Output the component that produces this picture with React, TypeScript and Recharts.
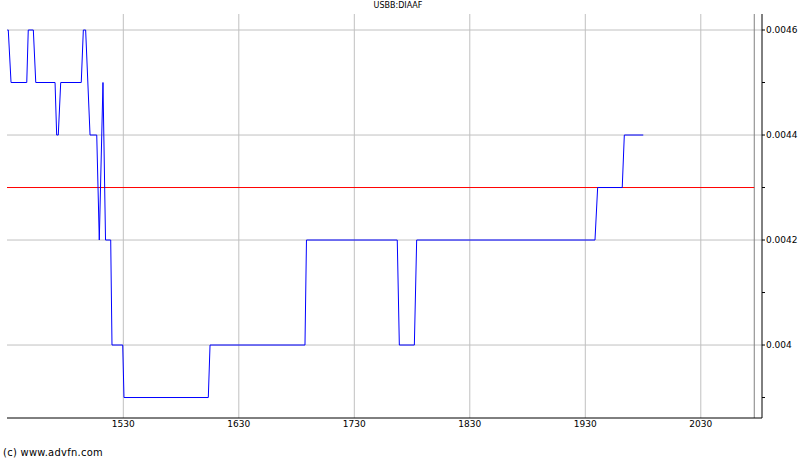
import {
  LineChart,
  Line,
  XAxis,
  YAxis,
  CartesianGrid,
} from 'recharts';

// time axis (HHMM-style units) and price
const times = [
  1429.6, 1430.4, 1432.8, 1446.4, 1447.7, 1452.1, 1454.2, 1470.9, 1472.3, 1473.7,
  1475.8, 1493.6, 1495.4, 1497.4, 1501.2, 1507.0, 1509.2, 1512.4, 1514.6, 1519.1,
  1520.2, 1529.5, 1530.6, 1603.6, 1605.1, 1687.3, 1688.6, 1767.2, 1769.0, 1782.0,
  1784.0, 1938.4, 1940.7, 1962.0, 1963.8, 1980.2,
];
const prices = [
  0.0046, 0.0046, 0.0045, 0.0045, 0.0046, 0.0046, 0.0045, 0.0045, 0.0044, 0.0044,
  0.0045, 0.0045, 0.0046, 0.0046, 0.0044, 0.0044, 0.0042, 0.0045, 0.0042, 0.0042,
  0.004, 0.004, 0.0039, 0.0039, 0.004, 0.004, 0.0042, 0.0042, 0.004, 0.004,
  0.0042, 0.0042, 0.0043, 0.0043, 0.0044, 0.0044,
];

const xTicks = [1530, 1630, 1730, 1830, 1930, 2030];
const yMinorTicks = [0.0039, 0.004, 0.0041, 0.0042, 0.0043, 0.0044, 0.0045, 0.0046];
const yMajorTicks = [0.004, 0.0042, 0.0044, 0.0046];
const yMajorLabels = ['0.004', '0.0042', '0.0044', '0.0046'];

const THRESHOLD = 0.0043;
const LAST_TIME = 2076.3;
const X_DOMAIN = [1429.3, 2083];
const Y_DOMAIN = [0.003861, 0.0046305];

const data = times.map((t, i) => ({ t, p: prices[i] }));
const thresholdData = [
  { t: X_DOMAIN[0], v: THRESHOLD },
  { t: LAST_TIME, v: THRESHOLD },
];
const lastTimeData = [
  { t: LAST_TIME, v: Y_DOMAIN[0] },
  { t: LAST_TIME, v: Y_DOMAIN[1] },
];

const FONT = 'DejaVu Sans, Verdana, sans-serif';
const TICK_STYLE = { fontFamily: FONT, fontSize: 9, fill: '#000' };
const AXIS_LINE = { stroke: '#000', strokeWidth: 1 };

const yLabel = (v: number) => {
  const i = yMajorTicks.findIndex((m) => Math.abs(m - v) < 1e-9);
  return i >= 0 ? yMajorLabels[i] : '';
};

export default function App() {
  return (
    <div
      style={{
        position: 'absolute',
        left: 0,
        top: 0,
        width: 800,
        height: 462,
        background: '#fff',
      }}
    >
      <div
        style={{
          position: 'absolute',
          left: 0,
          width: 796,
          top: 1,
          textAlign: 'center',
          fontFamily: FONT,
          fontSize: 8,
          lineHeight: '9px',
        }}
      >
        USBB:DIAAF
      </div>
      <LineChart
        width={800}
        height={462}
        data={data}
        margin={{ top: 14, right: 0, bottom: 0, left: 7 }}
      >
        <CartesianGrid
          xAxisId="b"
          yAxisId="r"
          stroke="#c0c0c0"
          strokeWidth={1}
          horizontalValues={yMajorTicks}
          verticalValues={xTicks}
        />
        <XAxis
          xAxisId="b"
          dataKey="t"
          type="number"
          domain={X_DOMAIN}
          ticks={xTicks}
          allowDataOverflow
          height={44}
          tick={TICK_STYLE}
          tickLine={false}
          tickSize={0}
          tickMargin={3}
          axisLine={AXIS_LINE}
          interval={0}
        />
        <XAxis
          xAxisId="t"
          dataKey="t"
          type="number"
          orientation="top"
          domain={X_DOMAIN}
          ticks={xTicks}
          allowDataOverflow
          height={0}
          mirror
          tick={false}
          tickSize={3}
          tickLine={{ stroke: '#000' }}
          axisLine={AXIS_LINE}
        />
        <YAxis
          yAxisId="r"
          orientation="right"
          type="number"
          domain={Y_DOMAIN}
          ticks={yMinorTicks}
          allowDataOverflow
          width={38}
          tick={{ ...TICK_STYLE, textAnchor: 'start' }}
          tickFormatter={yLabel}
          tickSize={3}
          tickMargin={1}
          tickLine={{ stroke: '#000' }}
          axisLine={AXIS_LINE}
          interval={0}
        />
        <YAxis
          yAxisId="l"
          orientation="left"
          type="number"
          domain={Y_DOMAIN}
          ticks={yMinorTicks}
          allowDataOverflow
          width={0}
          mirror
          tick={false}
          tickSize={2}
          tickLine={{ stroke: '#000' }}
          axisLine={AXIS_LINE}
        />
        <Line
          xAxisId="b"
          yAxisId="r"
          data={lastTimeData}
          dataKey="v"
          type="linear"
          stroke="#808080"
          strokeWidth={1}
          dot={false}
          activeDot={false}
          isAnimationActive={false}
        />
        <Line
          xAxisId="b"
          yAxisId="r"
          data={thresholdData}
          dataKey="v"
          type="linear"
          stroke="#ff0000"
          strokeWidth={1}
          dot={false}
          activeDot={false}
          isAnimationActive={false}
        />
        <Line
          xAxisId="b"
          yAxisId="r"
          type="linear"
          dataKey="p"
          stroke="#0000ff"
          strokeWidth={1}
          dot={false}
          isAnimationActive={false}
        />
      </LineChart>
      <div
        style={{
          position: 'absolute',
          left: 3,
          top: 446,
          fontFamily: 'DejaVu Sans Condensed, DejaVu Sans, sans-serif',
          fontSize: 11,
          letterSpacing: 0.3,
          lineHeight: '13px',
          whiteSpace: 'nowrap',
        }}
      >
        (c) www.advfn.com
      </div>
    </div>
  );
}
